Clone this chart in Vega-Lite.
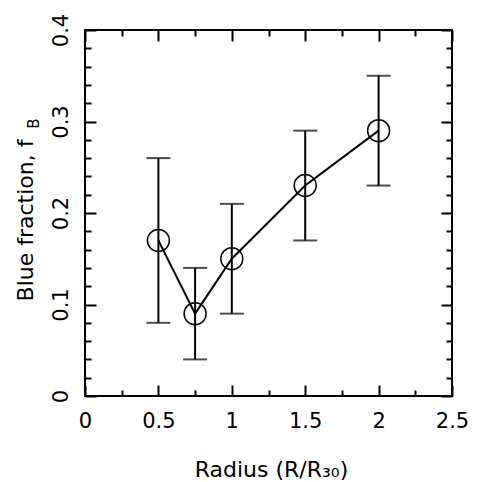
{
  "$schema": "https://vega.github.io/schema/vega-lite/v6.json",
  "autosize": "none",
  "width": 367,
  "height": 366,
  "padding": {"left": 85, "top": 30, "right": 29, "bottom": 86},
  "background": "white",
  "config": {
    "view": {"stroke": "black", "strokeWidth": 2},
    "axis": {
      "domain": false,
      "grid": false,
      "tickColor": "black",
      "tickWidth": 2,
      "labelColor": "black",
      "titleColor": "black",
      "labelFont": "DejaVu Sans",
      "titleFont": "DejaVu Sans",
      "titleFontWeight": "normal",
      "labelFontSize": 21,
      "titleFontSize": 22,
      "labelFlush": false,
      "labelOverlap": false,
      "format": "~g"
    }
  },
  "data": {
    "values": [
      {"r": 0.5, "fb": 0.17, "lo": 0.08, "hi": 0.26},
      {"r": 0.75, "fb": 0.09, "lo": 0.04, "hi": 0.14},
      {"r": 1.0, "fb": 0.15, "lo": 0.09, "hi": 0.21},
      {"r": 1.5, "fb": 0.23, "lo": 0.17, "hi": 0.29},
      {"r": 2.0, "fb": 0.29, "lo": 0.23, "hi": 0.35}
    ]
  },
  "resolve": {"axis": {"x": "independent", "y": "independent"}},
  "layer": [
    {
      "mark": {"type": "point", "opacity": 0},
      "encoding": {
        "x": {"field": "r", "type": "quantitative", "scale": {"domain": [0, 2.5], "nice": false, "zero": false},
          "axis": {"orient": "bottom", "values": [0, 0.5, 1, 1.5, 2, 2.5], "format": "~g", "tickSize": -11, "labelPadding": 25, "labelBaseline": "top", "labelAlign": "center", "title": "Radius (R/R₃₀)", "titleBaseline": "alphabetic", "titleY": 80, "titleX": 186}},
        "y": {"field": "fb", "type": "quantitative", "scale": {"domain": [0, 0.4], "nice": false, "zero": false},
          "axis": {"orient": "left", "values": [0, 0.1, 0.2, 0.3, 0.4], "format": "~g", "tickSize": -11, "labelPadding": 29, "labelAngle": -90, "labelAlign": "center", "labelBaseline": "alphabetic", "title": "Blue fraction, f", "titleAngle": -90, "titleAlign": "center", "titleBaseline": "alphabetic", "titleX": -53, "titleY": 190}}
      }
    },
    {
      "mark": {"type": "point", "opacity": 0},
      "encoding": {
        "x": {"field": "r", "type": "quantitative", "scale": {"domain": [0, 2.5], "nice": false, "zero": false},
          "axis": {"orient": "top", "values": [0, 0.5, 1, 1.5, 2, 2.5], "tickSize": -11, "labels": false, "title": null}},
        "y": {"field": "fb", "type": "quantitative", "scale": {"domain": [0, 0.4], "nice": false, "zero": false},
          "axis": {"orient": "right", "values": [0, 0.1, 0.2, 0.3, 0.4], "tickSize": -11, "labels": false, "title": null}}
      }
    },
    {
      "mark": {"type": "point", "opacity": 0},
      "encoding": {
        "x": {"field": "r", "type": "quantitative", "scale": {"domain": [0, 2.5], "nice": false, "zero": false},
          "axis": {"orient": "bottom", "values": [0.25, 0.75, 1.25, 1.75, 2.25], "tickSize": -6, "labels": false, "title": null}},
        "y": {"field": "fb", "type": "quantitative", "scale": {"domain": [0, 0.4], "nice": false, "zero": false},
          "axis": {"orient": "left", "values": [0.02, 0.04, 0.06, 0.08, 0.12, 0.14, 0.16, 0.18, 0.22, 0.24, 0.26, 0.28, 0.32, 0.34, 0.36, 0.38], "tickSize": -6, "labels": false, "title": "B", "titleFontSize": 15, "titleAngle": -90, "titleAlign": "center", "titleBaseline": "alphabetic", "titleX": -47, "titleY": 93}}
      }
    },
    {
      "mark": {"type": "point", "opacity": 0},
      "encoding": {
        "x": {"field": "r", "type": "quantitative", "scale": {"domain": [0, 2.5], "nice": false, "zero": false},
          "axis": {"orient": "top", "values": [0.25, 0.75, 1.25, 1.75, 2.25], "tickSize": -6, "labels": false, "title": null}},
        "y": {"field": "fb", "type": "quantitative", "scale": {"domain": [0, 0.4], "nice": false, "zero": false},
          "axis": {"orient": "right", "values": [0.02, 0.04, 0.06, 0.08, 0.12, 0.14, 0.16, 0.18, 0.22, 0.24, 0.26, 0.28, 0.32, 0.34, 0.36, 0.38], "tickSize": -6, "labels": false, "title": null}}
      }
    },
    {
      "mark": {"type": "rule", "color": "black", "strokeWidth": 2},
      "encoding": {
        "x": {"field": "r", "type": "quantitative", "axis": null},
        "y": {"field": "lo", "type": "quantitative", "axis": null},
        "y2": {"field": "hi"}
      }
    },
    {
      "mark": {"type": "tick", "orient": "horizontal", "color": "black", "size": 24, "thickness": 2},
      "encoding": {
        "x": {"field": "r", "type": "quantitative", "axis": null},
        "y": {"field": "lo", "type": "quantitative", "axis": null}
      }
    },
    {
      "mark": {"type": "tick", "orient": "horizontal", "color": "black", "size": 24, "thickness": 2},
      "encoding": {
        "x": {"field": "r", "type": "quantitative", "axis": null},
        "y": {"field": "hi", "type": "quantitative", "axis": null}
      }
    },
    {
      "mark": {"type": "line", "color": "black", "strokeWidth": 2},
      "encoding": {
        "x": {"field": "r", "type": "quantitative", "axis": null},
        "y": {"field": "fb", "type": "quantitative", "axis": null}
      }
    },
    {
      "mark": {"type": "point", "shape": "circle", "filled": false, "color": "black", "size": 484, "strokeWidth": 1.5, "opacity": 1},
      "encoding": {
        "x": {"field": "r", "type": "quantitative", "axis": null},
        "y": {"field": "fb", "type": "quantitative", "axis": null}
      }
    }
  ]
}
